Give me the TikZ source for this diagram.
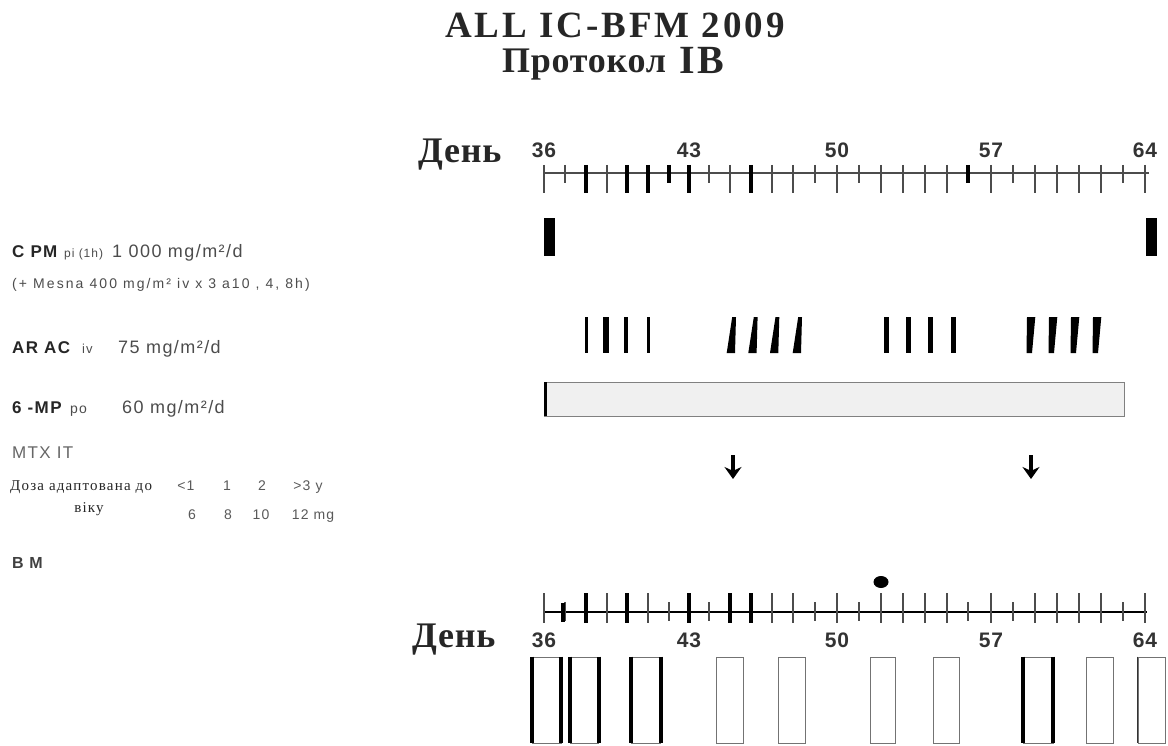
\documentclass[tikz,border=0pt]{standalone}
\usepackage{fontspec}
\setmainfont{Liberation Serif}
\setsansfont{Liberation Sans}
\newfontfamily\ttlfont[LetterSpace=8]{Liberation Serif}
\newfontfamily\cyrfont[LetterSpace=2]{Liberation Serif}
\newfontfamily\lblfont[LetterSpace=8]{Liberation Sans}
\newfontfamily\widefont[LetterSpace=15]{Liberation Sans}
\newfontfamily\numfont[LetterSpace=4]{Liberation Sans}
\usepackage{tikz}
\usetikzlibrary{positioning,arrows.meta,calc}
\newcommand\pxsize[1]{\fontsize{#1}{#1}\selectfont}

\begin{document}
\begin{tikzpicture}[
  x=1pt, y=-1pt,
  txt/.style={inner sep=0pt, anchor=base west, text=black!85},
  ttl/.style={inner sep=0pt, anchor=base, text=black!85, font=\ttlfont\bfseries\pxsize{37}},
  daylbl/.style={inner sep=0pt, anchor=base west, text=black!85, font=\cyrfont\bfseries\pxsize{36}},
  num/.style={inner sep=0pt, anchor=base, text=black!80, font=\numfont\bfseries\pxsize{21}},
  drug/.style={txt, font=\lblfont\bfseries\pxsize{17}},
  dose/.style={txt, text=black!70, font=\lblfont\pxsize{18}},
  route/.style={txt, text=black!70, font=\lblfont\pxsize{12}},
  agenum/.style={inner sep=0pt, anchor=base, text=black!65, font=\lblfont\pxsize{14}},
  tick/.style={line width=1.1pt, black!70},
  bigtick/.style={line width=4.5pt, black},
  mtx/.style={-{Stealth[length=12pt,width=17pt]}, line width=3.2pt},
  bmbox/.style={draw=black!55, line width=0.9pt, minimum height=86pt, inner sep=0pt},
  bmedge/.style={line width=4pt, black}]
\useasboundingbox (0,0) rectangle (1168,746);

% title
\node[ttl] (title) at (615,38) {ALL IC-BFM 2009};
\node[ttl, anchor=base west, font=\cyrfont\bfseries\pxsize{36}] (prot) at (502,73) {Протокол};
\node[ttl, anchor=base west, font=\ttlfont\bfseries\pxsize{40}] (ib) at (679,74) {IB};

% days
\foreach \d/\x in {36/544, 37/565, 38/586, 39/607, 40/627, 41/648, 42/669, 43/689,
  44/709, 45/730, 46/751, 47/772, 48/793, 49/815, 50/837, 51/859, 52/881, 53/903,
  54/925, 55/947, 56/968, 57/991, 58/1013, 59/1035, 60/1057, 61/1079, 62/1101,
  63/1123, 64/1145}
  \coordinate (d\d) at (\x,0);

% top scale
\node[daylbl] (daytop) at (418,163) {День};
\draw[tick] ($(d36)+(-1,173)$) -- ($(d64)+(4,173)$);
\foreach \d in {36,38,39,40,41,43,45,46,47,48,50,52,53,54,55,57,59,60,61,62,64}
  \draw[tick] ($(d\d)+(0,165)$) -- ($(d\d)+(0,193)$);
\foreach \d in {37,42,44,49,51,56,58,63}
  \draw[tick] ($(d\d)+(0,165)$) -- ($(d\d)+(0,183)$);
\foreach \d in {38,40,41,43,46}
  \draw[bigtick] ($(d\d)+(0,165)$) -- ($(d\d)+(0,193)$);
\foreach \d in {42,56}
  \draw[bigtick] ($(d\d)+(0,165)$) -- ($(d\d)+(0,183)$);
\foreach \d in {36,43,50,57,64}
  \node[num] (top\d) at ($(d\d)+(0,158)$) {\d};

% CPM
\node[drug] (cpm) at (12,258) {C PM};
\node[route] (cpmroute) at (64,258) {pi (1h)};
\node[dose] (cpmdose) at (112,258) {1 000 mg/m²/d};
\node[route, font=\widefont\pxsize{14}] (mesna) at (12,289) {(+ Mesna 400 mg/m² iv x 3 a10 , 4, 8h)};
\fill (544,218) rectangle (555,256);
\fill (1146,218) rectangle (1157,256);

% ARAC
\node[drug] (arac) at (12,353) {AR AC};
\node[route, font=\lblfont\pxsize{13}] (aracroute) at (82,353) {iv};
\node[dose] (aracdose) at (118,353) {75 mg/m²/d};
\fill (584.5,317) rectangle (587.5,353);
\fill (603,317) rectangle (609,353);
\fill (624,317) rectangle (628,353);
\fill (646.5,317) rectangle (649.5,353);
\foreach \x in {726.7,748.3,770,792.7}
  \fill (\x+5.5,317) -- (\x+9.3,317) -- (\x+8.3,353) -- (\x,353) -- cycle;
\foreach \x in {883.5,905.5,927.5,950.5}
  \fill (\x,317) rectangle (\x+5,353);
\foreach \x in {1027,1049,1071,1093}
  \fill (\x,317) -- (\x+8.3,317) -- (\x+5,353) -- (\x-0.5,353) -- cycle;

% 6-MP
\node[drug] (mp) at (12,413) {6 -MP};
\node[route, font=\lblfont\pxsize{14}] (mproute) at (70,413) {po};
\node[dose] (mpdose) at (122,413) {60 mg/m²/d};
\draw[draw=black!50, fill=black!6, line width=1pt] (544,382) rectangle (1124,416);
\draw[line width=3pt] (545.5,382) -- (545.5,416);

% MTX IT
\node[txt, text=black!60, font=\lblfont\pxsize{17}] (mtx) at (12,458) {MTX IT};
\node[txt, font=\ttlfont\pxsize{15}] (age) at (10,490) {Доза адаптована до};
\node[txt, anchor=base, font=\ttlfont\pxsize{15}] (agecont) at (89,512) {віку};
\node[agenum] (a1) at (186,490) {<1};
\node[agenum] (a2) at (227,490) {1};
\node[agenum] (a3) at (262,490) {2};
\node[agenum] (a4) at (308,490) {>3 y};
\node[agenum] (m1) at (192,519) {6};
\node[agenum] (m2) at (228,519) {8};
\node[agenum] (m3) at (261,519) {10};
\node[agenum] (m4) at (313,519) {12 mg};
\coordinate (it1s) at (733,455);
\coordinate (it1e) at (733,479);
\coordinate (it2s) at (1031,455);
\coordinate (it2e) at (1031,479);
\draw[mtx] (it1s) -- (it1e);
\draw[mtx] (it2s) -- (it2e);

% BM
\node[drug, text=black!75, font=\lblfont\bfseries\pxsize{16}] (bm) at (12,568) {B M};
\draw[line width=2pt] ($(d36)+(-1,612)$) -- ($(d64)+(2,612)$);
\foreach \d in {36,38,39,40,41,43,45,46,47,48,50,52,53,54,55,57,59,60,61,62,64}
  \draw[tick] ($(d\d)+(0,593)$) -- ($(d\d)+(0,623)$);
\foreach \d in {37,42,44,49,51,56,58,63}
  \draw[tick] ($(d\d)+(0,602)$) -- ($(d\d)+(0,621)$);
\foreach \d in {38,40,43,45,46}
  \draw[bigtick] ($(d\d)+(0,593)$) -- ($(d\d)+(0,623)$);
\draw[bigtick] ($(d37)+(-2,603)$) -- ($(d37)+(-2,622)$);
\fill ($(d52)+(0,582)$) ellipse [x radius=7.5pt, y radius=6pt];
\node[daylbl] (daybot) at (412,647) {День};
\foreach \d in {36,43,50,57,64}
  \node[num] (bot\d) at ($(d\d)+(0,647)$) {\d};

% BM boxes
\foreach \n/\x/\w in {1/546.5/29, 2/584.5/28.5, 3/646/29, 4/729.5/27, 5/791.5/27,
  6/882.5/25, 7/946/26, 8/1038/30, 9/1099.5/27, 10/1151.5/27}
  \node[bmbox, minimum width=\w pt] (bm\n) at (\x,700) {};
\foreach \n in {1,2,3,8} {
  \draw[bmedge] (bm\n.north west) -- (bm\n.south west);
  \draw[bmedge] (bm\n.north east) -- (bm\n.south east);
}
\draw[line width=1.6pt, black!80] (bm10.north west) -- (bm10.south west);
\end{tikzpicture}
\end{document}
